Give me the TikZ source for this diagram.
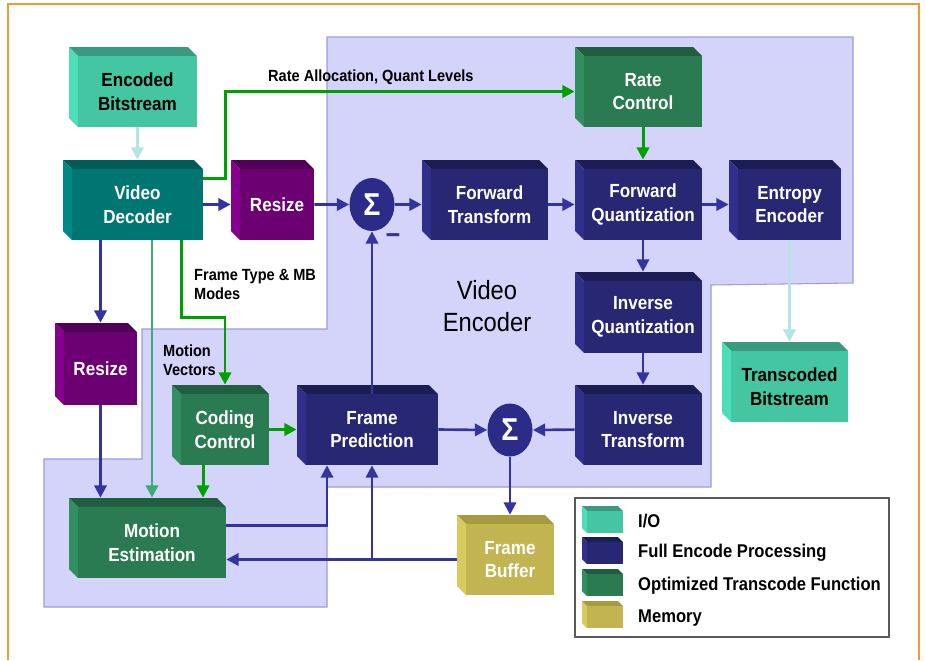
\documentclass[tikz,border=0pt]{standalone}
\usepackage{fontspec}
\newfontfamily\blkfont{Liberation Sans}[FakeStretch=0.9]
\usetikzlibrary{arrows.meta,shapes.geometric,fit}

\definecolor{io}{HTML}{44C6A2}\definecolor{iotop}{HTML}{3A9A80}\definecolor{ioside}{HTML}{4CDEB6}
\definecolor{dec}{HTML}{007672}\definecolor{dectop}{HTML}{005C5A}\definecolor{decside}{HTML}{008884}
\definecolor{rsz}{HTML}{6C0072}\definecolor{rsztop}{HTML}{520058}\definecolor{rszside}{HTML}{85008C}
\definecolor{enc}{HTML}{272773}\definecolor{enctop}{HTML}{1D1D56}\definecolor{encside}{HTML}{30308C}
\definecolor{opt}{HTML}{2A7A52}\definecolor{opttop}{HTML}{1F5E3E}\definecolor{optside}{HTML}{318F5F}
\definecolor{mem}{HTML}{C2B551}\definecolor{memtop}{HTML}{A59A3D}\definecolor{memside}{HTML}{D8CB5E}
\definecolor{lnav}{HTML}{3434A0}
\definecolor{lgrn}{HTML}{00A000}
\definecolor{lsea}{HTML}{3CAA76}
\definecolor{lblue}{HTML}{B5E3E8}
\definecolor{lav}{HTML}{D4D4FA}
\definecolor{lavline}{HTML}{9C9CDC}
\definecolor{frameor}{HTML}{F39A32}
\definecolor{sigc}{HTML}{2C2C88}

\tikzset{
	blk/.style={inner sep=0pt},
	blktext/.style={inner sep=0pt, align=center, text=white, font=\blkfont\bfseries\fontsize{10.8}{13.5}\selectfont},
	iobox/.style={fill=io},
	decbox/.style={fill=dec},
	rszbox/.style={fill=rsz},
	encbox/.style={fill=enc},
	optbox/.style={fill=opt},
	membox/.style={fill=mem},
	iotext/.style={text=black},
	dectext/.style={},
	rsztext/.style={},
	enctext/.style={},
	opttext/.style={},
	memtext/.style={},
	sig/.style={ellipse, fill=sigc, minimum width=0.9cm, minimum height=1.06cm, inner sep=0pt, text=white, font=\blkfont\bfseries\fontsize{18}{18}\selectfont},
	lbl/.style={anchor=west, align=left, font=\blkfont\bfseries\fontsize{9.2}{10.8}\selectfont},
	lgtext/.style={anchor=west, font=\blkfont\bfseries\fontsize{10.5}{13.5}\selectfont},
	nav/.style={draw=lnav, line width=1.5pt, -{Triangle[length=7pt,width=7pt]}},
	grn/.style={draw=lgrn, line width=1.7pt, -{Triangle[length=7pt,width=7pt]}},
	sea/.style={draw=lsea, line width=1.5pt, -{Triangle[length=7pt,width=7pt]}},
	lb/.style={draw=lblue, line width=1.7pt, -{Triangle[length=7pt,width=7pt]}},
	in3d/.style={shorten >=0.18cm}
}

\newcommand{\blk}[7]{%
	\fill[#2top] (#3,#4) -- (#5-9,#4) -- (#5,#4+9) -- (#3+9,#4+9) -- cycle;
	\fill[#2side] (#3,#4) -- (#3+9,#4+9) -- (#3+9,#6) -- (#3,#6-9) -- cycle;
	\node[blk, #2box, fit={(#3+9,#4+9) (#5,#6)}] (#1) {};
	\node[blktext, #2text] (#1t) at (#1.center) {#7};
}
\newcommand{\swatch}[3]{%
	\fill[#1top] (#2,#3) -- (#2+36,#3) -- (#2+41,#3+5) -- (#2+5,#3+5) -- cycle;
	\fill[#1side] (#2,#3) -- (#2+5,#3+5) -- (#2+5,#3+27) -- (#2,#3+22) -- cycle;
	\fill[#1] (#2+5,#3+5) rectangle (#2+41,#3+27);
}

\begin{document}
\begin{tikzpicture}[x=0.02cm, y=-0.02cm]
	\useasboundingbox (0,0) rectangle (925,660);
	\fill[white] (0,0) rectangle (925,660);
	\filldraw[fill=lav, draw=lavline, line width=0.6pt] (327,37) -- (853,37) -- (853,283) -- (711,285) -- (711,487) -- (327,487) -- (327,607) -- (44,607) -- (44,459) -- (142,459) -- (142,329) -- (327,329) -- cycle;

	\blk{encbs}{io}{69}{47}{197}{127}{Encoded\\Bitstream}
	\blk{viddec}{dec}{63}{160}{203}{240}{Video\\Decoder}
	\blk{rsza}{rsz}{231}{160}{314}{240}{Resize}
	\blk{ftr}{enc}{422}{160}{548}{240}{Forward\\Transform}
	\blk{rate}{opt}{575}{47}{702}{127}{Rate\\Control}
	\blk{fq}{enc}{575}{160}{702}{240}{Forward\\Quantization}
	\blk{ent}{enc}{729}{160}{841}{240}{Entropy\\Encoder}
	\blk{iq}{enc}{575}{272}{702}{353}{Inverse\\Quantization}
	\blk{itr}{enc}{575}{385}{702}{465}{Inverse\\Transform}
	\blk{tbs}{io}{722}{342}{848}{422}{Transcoded\\Bitstream}
	\blk{rszb}{rsz}{55}{323}{137}{405}{Resize}
	\blk{cc}{opt}{172}{385}{269}{465}{Coding\\Control}
	\blk{fp}{enc}{297}{385}{438}{465}{Frame\\Prediction}
	\blk{me}{opt}{69}{498}{226}{578}{Motion\\Estimation}
	\blk{fb}{mem}{457}{515}{554}{595}{Frame\\Buffer}

	\node[sig] (sig1) at (372,204.5) {Σ};
	\node[sig] (sig2) at (510,430) {Σ};
	\node[text=lnav, font=\blkfont\bfseries\fontsize{16}{16}\selectfont] (minus) at (393,239) {−};

	\node[lbl] (lblrate) at (262,77) {Rate Allocation, Quant Levels};
	\node[lbl] (lblmode) at (188,284) {Frame Type \& MB\\Modes};
	\node[lbl] (lblmv) at (157,360) {Motion\\Vectors};
	\node[align=center, font=\blkfont\fontsize{15}{18}\selectfont] (vetitle) at (487,306) {Video\\Encoder};

	\draw[lb, in3d] (encbs.south) -- (viddec.north);
	\draw[grn, in3d] (viddec.east) ++(0,-26) -- ++(22,0) |- (rate.west);
	\draw[nav, in3d] (viddec.east) -- (rsza.west);
	\draw[nav] (rsza.east) -- (sig1.west);
	\draw[nav, in3d] (sig1.east) -- (ftr.west);
	\draw[nav, in3d] (ftr.east) -- (fq.west);
	\draw[nav, in3d] (fq.east) -- (ent.west);
	\draw[grn, in3d] (rate.south) -- (fq.north);
	\draw[nav, in3d] (fq.south) -- (iq.north);
	\draw[nav, in3d] (iq.south) -- (itr.north);
	\draw[lb, in3d] (ent.south) -- (tbs.north);
	\draw[nav, shorten <=0.18cm] (itr.west) -- (sig2.east);
	\draw[nav] (fp.east) -- (sig2.west);
	\draw[nav, in3d] (sig2.south) -- (fb.north);
	\draw[nav] (fp.north) -- (sig1.south);
	\draw[nav, shorten <=0.18cm] (fb.west) -- (fb.west -| me.east);
	\draw[nav] (fp.south |- fb.west) -- (fp.south);
	\draw[nav] (me.east) ++(0,-17) -| ([xshift=-0.9cm]fp.south);
	\draw[nav, in3d] (rszb.north |- viddec.south) -- (rszb.north);
	\draw[nav, in3d] (rszb.south) -- (rszb.south |- me.north);
	\draw[sea, in3d] (me.north |- viddec.south) -- (me.north);
	\draw[grn, in3d] ([xshift=-0.44cm]viddec.south east) -- ++(0,77) -| (cc.north);
	\draw[grn, in3d] (cc.east) -- (fp.west);
	\draw[grn, in3d] ([xshift=-0.44cm]cc.south) coordinate (ccme) -- (ccme |- me.north);

	\draw[draw=black!65, line width=0.6pt] (575,498) rectangle (889,637);
	\swatch{io}{582}{506}
	\swatch{enc}{582}{537}
	\swatch{opt}{582}{569}
	\swatch{mem}{582}{601}
	\node[lgtext] (lgio) at (632,521) {I/O};
	\node[lgtext] (lgenc) at (632,553) {Full Encode Processing};
	\node[lgtext] (lgopt) at (632,586) {Optimized Transcode Function};
	\node[lgtext] (lgmem) at (632,618) {Memory};

	\draw[frameor, line width=1.2pt] (8,660) -- (8,4) -- (919,4) -- (919,660);
\end{tikzpicture}
\end{document}
